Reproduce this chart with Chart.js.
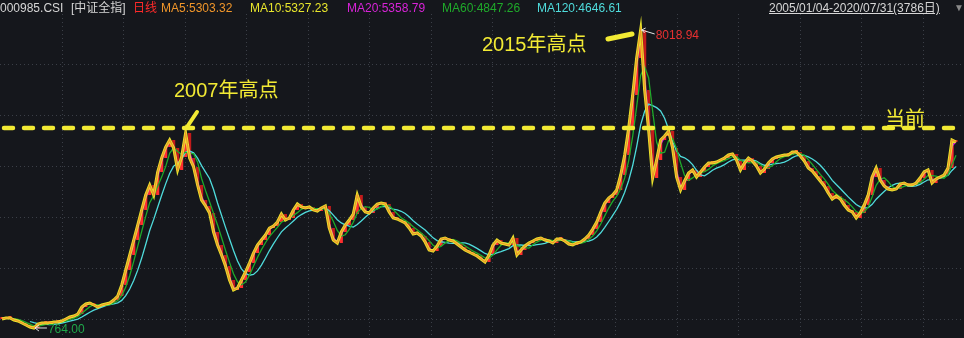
<!DOCTYPE html>
<html>
<head>
<meta charset="utf-8">
<script src="https://cdn.jsdelivr.net/npm/chart.js@4.4.0/dist/chart.umd.min.js"></script>
<style>
  html, body { margin: 0; padding: 0; background: #15171c; overflow: hidden; }
  #wrap { position: relative; width: 964px; height: 338px; }
  #c { position: absolute; left: 0; top: 0; }
  .t { position: absolute; font: 12px "Liberation Sans", "Noto Sans CJK SC", sans-serif; line-height: 14px; white-space: nowrap; }
  .big { position: absolute; font: 20px "Liberation Sans", "Noto Sans CJK SC", sans-serif; line-height: 20px; color: #f2ea34; white-space: nowrap; }
</style>
</head>
<body>
<div id="wrap">
  <canvas id="c" width="964" height="338"></canvas>
  <span class="t" style="left:0;top:1px;color:#d6d6d6">000985.CSI</span>
  <span class="t" style="left:71px;top:1px;color:#d6d6d6">[中证全指]</span>
  <span class="t" style="left:133px;top:1px;color:#ff2a2a">日线</span>
  <span class="t" id="lg0" style="left:161px;top:1px"></span>
  <span class="t" id="lg1" style="left:250px;top:1px"></span>
  <span class="t" id="lg2" style="left:347px;top:1px"></span>
  <span class="t" id="lg3" style="left:442px;top:1px"></span>
  <span class="t" id="lg4" style="left:537px;top:1px"></span>
  <span class="t" style="left:769px;top:1px;color:#d6d6d6;text-decoration:underline">2005/01/04-2020/07/31(3786日)</span>
  <span class="t" style="left:954px;top:1px;color:#8a8a8a;font-size:10px">▼</span>
  <span class="big" style="left:174px;top:80px">2007年高点</span>
  <span class="big" style="left:482px;top:34px">2015年高点</span>
  <span class="big" style="left:885px;top:109px">当前</span>
  <span class="t" id="hiLabel" style="color:#e83030"></span>
  <span class="t" id="loLabel" style="color:#1fa84a"></span>
</div>
<script>
// 中证全指 日线, one sample ≈ 16 trading days
const tradingDays = 3786;
const closes = [
  983, 1007, 1007, 959, 934, 886, 837, 788, 764, 861,
  886, 886, 886, 910, 910, 934, 983, 1032, 1056, 1105,
  1275, 1348, 1372, 1324, 1275, 1324, 1348, 1372, 1446, 1543,
  1811, 2176, 2541, 2906, 3271, 3637, 4002, 4245, 4002, 4562,
  4903, 5170, 5341, 5146, 4611, 4927, 5511, 4903, 4684, 4245,
  3880, 3734, 3564, 3101, 2785, 2541, 2273, 1932, 1689, 1738,
  1932, 2127, 2346, 2590, 2785, 2906, 3028, 3198, 3247, 3344,
  3539, 3393, 3442, 3637, 3783, 3710, 3685, 3710, 3637, 3612,
  3685, 3734, 3198, 2906, 2833, 3101, 3271, 3393, 3539, 4002,
  3710, 3588, 3564, 3685, 3783, 3807, 3783, 3588, 3442, 3418,
  3369, 3320, 3198, 3052, 3077, 3004, 2858, 2663, 2638, 2760,
  2931, 2955, 2906, 2882, 2809, 2736, 2663, 2614, 2565, 2517,
  2444, 2371, 2541, 2785, 2906, 2833, 2809, 2785, 2955, 2541,
  2663, 2760, 2833, 2882, 2931, 2955, 2906, 2882, 2833, 2931,
  2931, 2882, 2809, 2785, 2833, 2858, 2931, 3028, 3174, 3344,
  3588, 3807, 3929, 4002, 4124, 4489, 4976, 5633, 6436, 7337,
  8018.94, 6558, 5584, 4416, 4854, 5341, 5438, 5560, 5146, 4440,
  4124, 4343, 4537, 4611, 4440, 4562, 4684, 4781, 4781, 4805,
  4854, 4903, 4976, 5000, 4854, 4611, 4781, 4903, 4830, 4708,
  4537, 4635, 4781, 4878, 4927, 4951, 4976, 4976, 5049, 5049,
  4951, 4830, 4659, 4586, 4464, 4343, 4221, 4050, 3904, 3978,
  3904, 3758, 3637, 3588, 3442, 3564, 3758, 4002, 4440, 4659,
  4367, 4221, 4148, 4124, 4148, 4270, 4294, 4245, 4245, 4294,
  4416, 4562, 4611, 4294, 4391, 4440, 4489, 4659, 5341, 5292
];
const sampleLabels = closes.map((_, i) => i);

const maDays = [5, 10, 20, 60, 120];
const maColors = ["#f0962a", "#e8e62c", "#d823d8", "#1faa2a", "#4fdcdc"];
const maLegend = ["MA5:5303.32", "MA10:5327.23", "MA20:5358.79", "MA60:4847.26", "MA120:4646.61"];

const highLabel = "8018.94";
const lowLabel = "764.00";
const currentLevel = 5633; // 黄色虚线
const yRange = [520.4, 8749.3];

const daysPerSample = tradingDays / closes.length;

// moving average over N trading days, window expressed in samples
const movingAverage = (days) => {
  const w = days / daysPerSample;
  if (w <= 1) return closes.slice();
  const full = Math.floor(w);
  const frac = w - full;
  return closes.map((c, i) => {
    if (i - full < 0) return null;
    let sum = 0;
    for (let k = 0; k < full; k++) sum += closes[i - k];
    sum += frac * closes[i - full];
    return sum / w;
  });
};

const candles = closes.map((c, i) => [i > 0 ? closes[i - 1] : c, c]);
const candleColors = closes.map((c, i) => (i > 0 && c < closes[i - 1] ? "#c21b1b" : "#ff2e2e"));

maLegend.forEach((txt, i) => {
  const el = document.getElementById("lg" + i);
  el.textContent = txt;
  el.style.color = maColors[i];
});

const gold = "#f2ea34";

const backdrop = {
  id: "backdrop",
  beforeDraw(chart) {
    const { ctx, scales } = chart;
    ctx.save();
    ctx.fillStyle = "#15171c";
    ctx.fillRect(0, 0, chart.width, chart.height);
    ctx.strokeStyle = "#3b3f47";
    ctx.lineWidth = 1;
    ctx.setLineDash([1, 3]);
    // horizontal grid: equal divisions of the price range
    [983, 2224, 3466, 4708, 5949, 7191].forEach((v) => {
      const y = Math.round(scales.y.getPixelForValue(v)) + 0.5;
      ctx.beginPath();
      ctx.moveTo(0, y);
      ctx.lineTo(chart.width, y);
      ctx.stroke();
    });
    for (let x = 61.5; x < chart.width; x += 61.5) {
      const px = Math.round(x) + 0.5;
      ctx.beginPath();
      ctx.moveTo(px, 14);
      ctx.lineTo(px, chart.height);
      ctx.stroke();
    }
    ctx.restore();
  },
  afterDatasetsDraw(chart) {
    const { ctx, scales } = chart;
    ctx.save();
    // dashed "current" level
    const yl = scales.y.getPixelForValue(currentLevel);
    ctx.strokeStyle = gold;
    ctx.lineWidth = 4.5;
    ctx.lineCap = "round";
    ctx.setLineDash([9, 11]);
    ctx.beginPath();
    ctx.moveTo(4, yl);
    ctx.lineTo(chart.width, yl);
    ctx.stroke();
    ctx.setLineDash([]);
    // pointer strokes
    ctx.lineWidth = 4;
    ctx.beginPath();
    ctx.moveTo(187, 127);
    ctx.lineTo(197, 112);
    ctx.stroke();
    ctx.lineWidth = 5;
    ctx.beginPath();
    ctx.moveTo(608, 39);
    ctx.lineTo(632, 34);
    ctx.stroke();

    // high / low arrows
    const hi = closes.indexOf(Math.max(...closes));
    const lo = closes.indexOf(Math.min(...closes));
    const hx = scales.x.getPixelForValue(hi), hy = scales.y.getPixelForValue(closes[hi]);
    const lx = scales.x.getPixelForValue(lo), ly = scales.y.getPixelForValue(closes[lo]);
    ctx.strokeStyle = "#e6e6e6";
    ctx.lineWidth = 1;
    ctx.lineCap = "butt";
    ctx.beginPath();
    ctx.moveTo(hx + 1, hy);
    ctx.lineTo(hx + 14, hy + 4);
    ctx.moveTo(hx + 1, hy);
    ctx.lineTo(hx + 5, hy - 2);
    ctx.moveTo(hx + 1, hy);
    ctx.lineTo(hx + 4, hy + 3);
    ctx.moveTo(lx + 1, ly);
    ctx.lineTo(lx + 13, ly);
    ctx.moveTo(lx + 1, ly);
    ctx.lineTo(lx + 5, ly - 3);
    ctx.moveTo(lx + 1, ly);
    ctx.lineTo(lx + 5, ly + 3);
    ctx.stroke();
    ctx.restore();
  },
};

const lineSet = (i, width, order) => ({
  type: "line",
  label: maLegend[i],
  data: movingAverage(maDays[i]),
  borderColor: maColors[i],
  borderWidth: width,
  pointRadius: 0,
  tension: 0,
  order: order,
});

const chart = new Chart(document.getElementById("c"), {
  type: "bar",
  data: {
    labels: sampleLabels,
    datasets: [
      {
        label: "K线",
        data: candles,
        backgroundColor: candleColors,
        borderWidth: 0,
        barPercentage: 0.8,
        categoryPercentage: 1,
        minBarLength: 2,
        order: 10,
      },
      lineSet(4, 1.3, 6),
      lineSet(3, 1.3, 5),
      lineSet(2, 1.5, 4),
      lineSet(1, 3, 3),
      lineSet(0, 1.2, 2),
    ],
  },
  options: {
    responsive: false,
    animation: false,
    layout: { padding: { left: 0, right: 6, top: 0, bottom: 0 } },
    plugins: { legend: { display: false }, tooltip: { enabled: false } },
    scales: {
      x: { display: false },
      y: { display: false, min: yRange[0], max: yRange[1] },
    },
  },
  plugins: [backdrop],
});

// high / low value tags
const hiIdx = closes.indexOf(Math.max(...closes));
const loIdx = closes.indexOf(Math.min(...closes));
const hiEl = document.getElementById("hiLabel");
hiEl.textContent = highLabel;
hiEl.style.left = chart.scales.x.getPixelForValue(hiIdx) + 15 + "px";
hiEl.style.top = chart.scales.y.getPixelForValue(closes[hiIdx]) - 2 + "px";
const loEl = document.getElementById("loLabel");
loEl.textContent = lowLabel;
loEl.style.left = chart.scales.x.getPixelForValue(loIdx) + 14 + "px";
loEl.style.top = chart.scales.y.getPixelForValue(closes[loIdx]) - 6 + "px";
</script>
</body>
</html>
